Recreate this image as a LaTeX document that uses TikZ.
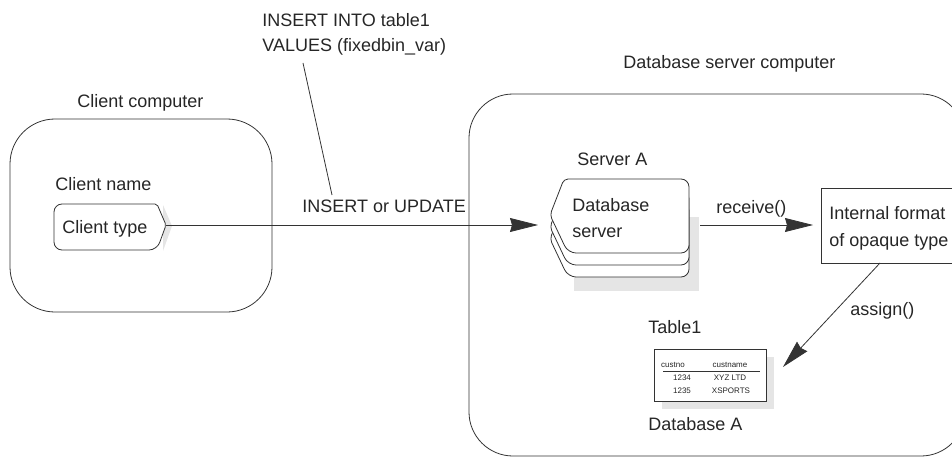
\documentclass[tikz,border=0pt]{standalone}
\usepackage{fontspec}
\setmainfont{Liberation Sans}
\usetikzlibrary{arrows.meta}
\definecolor{shadowgray}{gray}{0.9}
\definecolor{linegray}{gray}{0.2}
\begin{document}
\begin{tikzpicture}[x=1pt,y=-1pt,line width=0.8pt,draw=linegray,
  lbl/.style={font=\fontsize{18}{22}\selectfont,inner sep=0pt,anchor=base west,text=black!85},
  small/.style={font=\fontsize{8}{9}\selectfont,inner sep=0pt,anchor=base,text=black!85},
  bigarrow/.style={-{Stealth[length=28pt,width=14pt,inset=2pt]},draw=linegray}]
\useasboundingbox (0,0) rectangle (952,457);
\clip (0,0) rectangle (952,457);

% client computer
\draw[rounded corners=45pt] (10,119) rectangle (272,312);
\node[lbl] (clientcomp) at (77,108) {Client computer};
\node[lbl] (clientname) at (55,190) {Client name};
\fill[shadowgray] (163,205) -- (172,226) -- (163,251) -- cycle;
\filldraw[fill=white] (157,204) [rounded corners=8pt] -- (54,204) -- (54,250) -- (157,250) [rounded corners=2pt] -- (166,225) -- cycle;
\node[lbl] (clienttype) at (62,233) {Client type};
\coordinate (ctpt) at (166,225);

% server computer
\draw[rounded corners=44pt] (469,94) rectangle (965,456);
\node[lbl] (dbsc) at (623,69) {Database server computer};
\node[lbl] (servera) at (577,165) {Server A};
\fill[shadowgray] (574,{179+38}) rectangle (699,{277+14});
\foreach \dy in {24,12,0}{
  \filldraw[fill=white] (564,{179+\dy}) [rounded corners=8pt] -- (689,{179+\dy}) -- (689,{253+\dy}) -- (568,{253+\dy}) [rounded corners=4pt] -- (550,{215+\dy}) -- cycle;
}
\node[lbl] (dbs1) at (572,211) {Database};
\node[lbl] (dbs2) at (572,237) {server};
\coordinate (srvin) at (538,225);
\coordinate (srvout) at (700,225);

% insert arrow and labels
\draw[bigarrow] (ctpt) -- (srvin);
\node[lbl] (insupd) at (302,212) {INSERT or UPDATE};
\node[lbl] (ins1) at (262,27) {INSERT INTO table1};
\node[lbl] (ins2) at (262,52) {VALUES (fixedbin\_var)};
\coordinate (leadtop) at (303,63);
\coordinate (leadbot) at (332,195);
\draw (leadtop) -- (leadbot);

% internal format
\draw (821,188) rectangle (975,263);
\node[lbl] (if1) at (829,219) {Internal format};
\node[lbl] (if2) at (829,246) {of opaque type};
\coordinate (ifin) at (813,225);
\draw[bigarrow] (srvout) -- (ifin);
\node[lbl] (recv) at (716,213) {receive()};

% assign
\coordinate (asstart) at (880,263);
\coordinate (asend) at (783,367);
\draw[bigarrow] (asstart) -- (asend);
\node[lbl] (assign) at (850,315) {assign()};

% table
\node[lbl] (table1) at (648,333) {Table1};
\fill[shadowgray] (662,357) rectangle (774,409);
\filldraw[fill=white] (654,349) rectangle (766,401);
\draw[line width=0.9pt] (663,371) -- (760,371);
\node[small] (h1) at (673,367) {custno};
\node[small] (h2) at (730,367) {custname};
\node[small] (r11) at (682,380) {1234};
\node[small] (r12) at (730,380) {XYZ LTD};
\node[small] (r21) at (682,393) {1235};
\node[small] (r22) at (731,393) {XSPORTS};
\node[lbl] (dba) at (648,430) {Database A};
\end{tikzpicture}
\end{document}
